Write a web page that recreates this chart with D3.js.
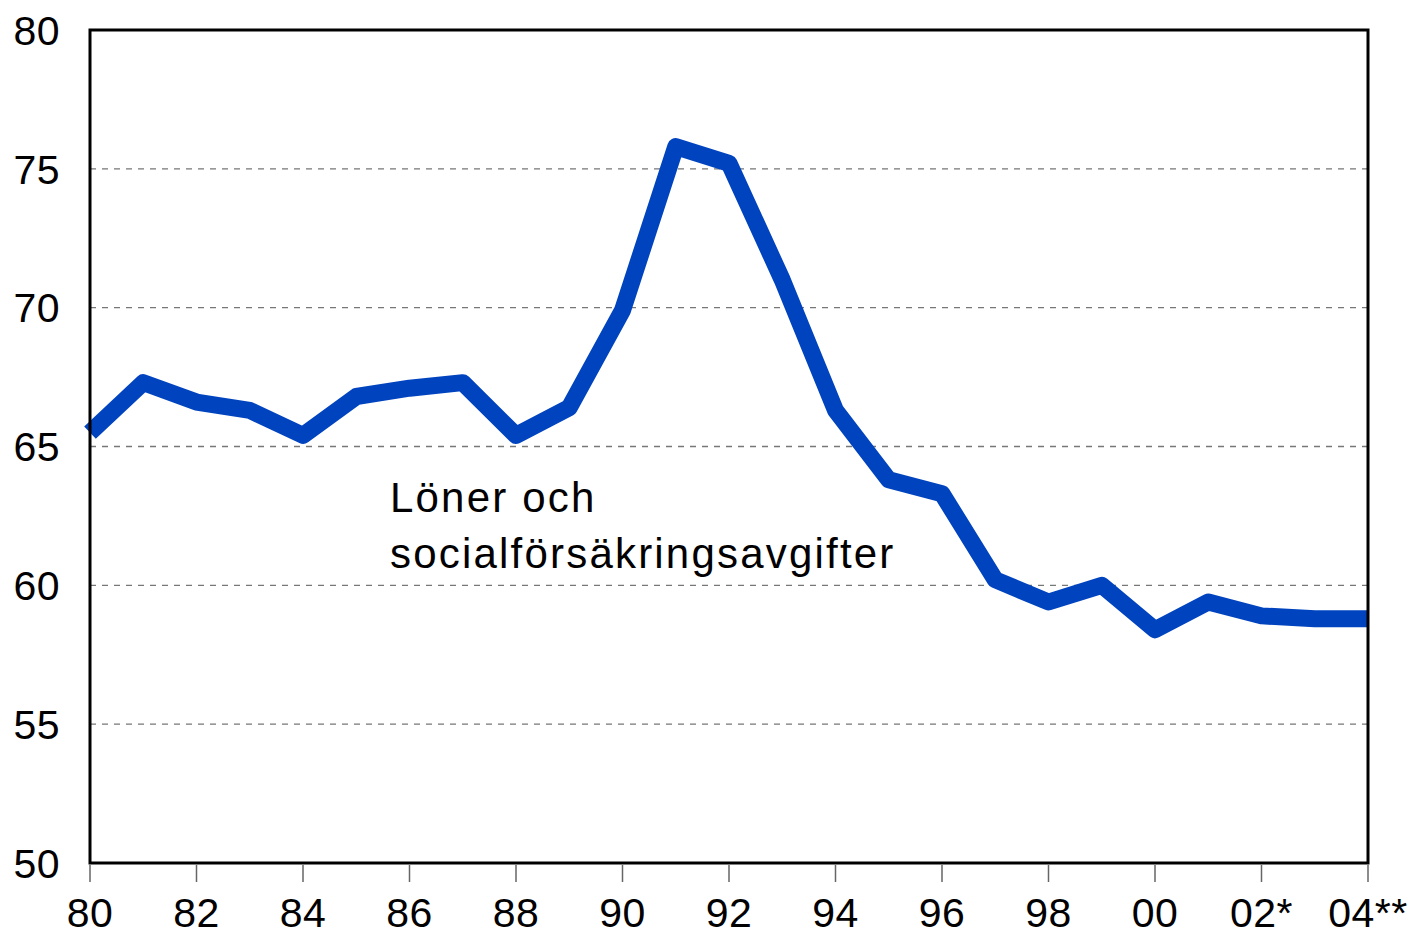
<!DOCTYPE html>
<html>
<head>
<meta charset="utf-8">
<script src="https://cdn.jsdelivr.net/npm/d3@7"></script>
<style>
  body { margin: 0; background: #fff; }
  svg text { font-family: "Liberation Sans", Arial, sans-serif; fill: #000; }
</style>
</head>
<body>
<div id="chart"></div>
<script>
const years = [1980, 1981, 1982, 1983, 1984, 1985, 1986, 1987, 1988, 1989, 1990, 1991,
  1992, 1993, 1994, 1995, 1996, 1997, 1998, 1999, 2000, 2001, 2002, 2003, 2004];
const values = [65.5, 67.3, 66.6, 66.3, 65.4, 66.8, 67.1, 67.3, 65.4, 66.4, 69.9, 75.8,
  75.2, 71.0, 66.3, 63.8, 63.3, 60.2, 59.4, 60.0, 58.4, 59.4, 58.9, 58.8, 58.8];
const xTicks = [1980, 1982, 1984, 1986, 1988, 1990, 1992, 1994, 1996, 1998, 2000, 2002, 2004];
const xTickLabels = ['80', '82', '84', '86', '88', '90', '92', '94', '96', '98', '00', '02*', '04**'];
const yTicks = [50, 55, 60, 65, 70, 75, 80];
const labelLines = ['Löner och', 'socialförsäkringsavgifter'];

const W = 1413, H = 937;
const margin = { top: 30, right: 45, bottom: 74, left: 90 };
const width = W - margin.left - margin.right;
const height = H - margin.top - margin.bottom;

const svg = d3.select('#chart').append('svg')
  .attr('width', W).attr('height', H)
  .append('g')
  .attr('transform', `translate(${margin.left},${margin.top})`);

const x = d3.scaleLinear().domain([1980, 2004]).range([0, width]);
const y = d3.scaleLinear().domain([50, 80]).range([height, 0]);

// dashed gridlines
svg.append('g').selectAll('line')
  .data(yTicks.filter(t => t > 50 && t < 80))
  .join('line')
  .attr('x1', 0).attr('x2', width)
  .attr('y1', d => y(d)).attr('y2', d => y(d))
  .attr('stroke', '#777').attr('stroke-width', 1.3)
  .attr('stroke-dasharray', '6,6');

// y labels
svg.append('g').selectAll('text')
  .data(yTicks)
  .join('text')
  .attr('x', -30).attr('y', d => y(d))
  .attr('dy', '0.36em')
  .attr('text-anchor', 'end')
  .style('font-size', '41px')
  .style('letter-spacing', '0.5px')
  .text(d => d);

// x ticks below axis
svg.append('g').selectAll('line')
  .data(xTicks)
  .join('line')
  .attr('x1', d => x(d)).attr('x2', d => x(d))
  .attr('y1', height + 2).attr('y2', height + 19)
  .attr('stroke', '#666').attr('stroke-width', 1.5);

svg.append('g').selectAll('text')
  .data(xTicks)
  .join('text')
  .attr('x', d => x(d)).attr('y', height + 64)
  .attr('text-anchor', 'middle')
  .style('font-size', '41px')
  .style('letter-spacing', '0.5px')
  .text((d, i) => xTickLabels[i]);

// line
const line = d3.line()
  .x((d, i) => x(years[i]))
  .y(d => y(d));

svg.append('path')
  .datum(values)
  .attr('fill', 'none')
  .attr('stroke', '#0043BE')
  .attr('stroke-width', 17)
  .attr('stroke-linejoin', 'round')
  .attr('d', line);

// frame
svg.append('rect')
  .attr('x', 0).attr('y', 0)
  .attr('width', width).attr('height', height)
  .attr('fill', 'none')
  .attr('stroke', '#000').attr('stroke-width', 3);

// annotation
svg.append('text')
  .attr('x', 390 - margin.left).attr('y', 512 - margin.top)
  .style('font-size', '42px')
  .style('letter-spacing', '2.2px')
  .selectAll('tspan')
  .data(labelLines)
  .join('tspan')
  .attr('x', 390 - margin.left)
  .attr('dy', (d, i) => i === 0 ? 0 : 56)
  .text(d => d);
</script>
</body>
</html>
